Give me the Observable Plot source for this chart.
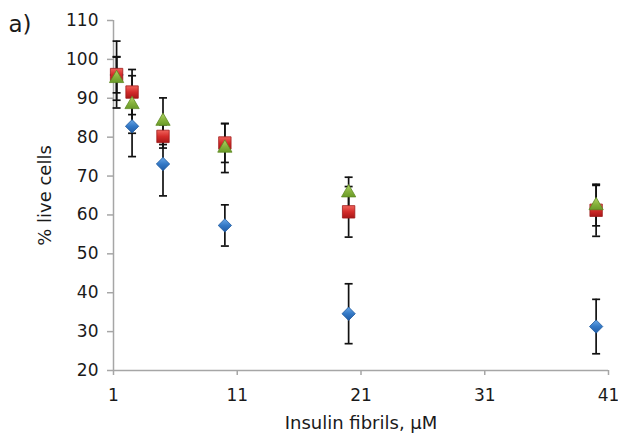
<!DOCTYPE html>
<html>
<head>
<meta charset="utf-8">
<script src="https://cdn.jsdelivr.net/npm/d3@7"></script>
<script src="https://cdn.jsdelivr.net/npm/@observablehq/plot@0.6"></script>
<style>
  html, body { margin: 0; padding: 0; background: #fff; }
  #chart { width: 618px; height: 438px; }
</style>
</head>
<body>
<div id="chart"></div>
<script>
// Fibril concentrations (µM) and % live cells (mean ± error) for three series
const concentrations = [1.25, 2.5, 5, 10, 20, 40];

const blueMean  = [96.0, 82.8, 73.1, 57.3, 34.6, 31.3];
const blueErr   = [4.6, 7.8, 8.2, 5.3, 7.7, 7.0];

const redMean   = [96.1, 91.6, 80.2, 78.5, 60.8, 61.2];
const redErr    = [8.6, 5.8, 3.0, 5.0, 6.5, 6.7];

const greenMean = [95.1, 88.4, 84.1, 77.2, 65.7, 62.4];
const greenErr  = [5.6, 7.4, 6.0, 6.3, 4.0, 5.2];

const xTicks = [1, 11, 21, 31, 41];
const yTicks = [20, 30, 40, 50, 60, 70, 80, 90, 100, 110];

const seriesDefs = [
  {key: "blue",  mean: blueMean,  err: blueErr,  symbol: "diamond2", r: 6.0, fill: "url(#gBlue)",  stroke: "#1f5a9e"},
  {key: "red",   mean: redMean,   err: redErr,   symbol: "square",   r: 7.0, fill: "url(#gRed)",   stroke: "#9e1c1c"},
  {key: "green", mean: greenMean, err: greenErr, symbol: "triangle", r: 5.3, fill: "url(#gGreen)", stroke: "#5e8a22"}
];

const rows = seriesDefs.flatMap(s =>
  concentrations.map((c, i) => ({series: s.key, x: c, y: s.mean[i], lo: s.mean[i] - s.err[i], hi: s.mean[i] + s.err[i]}))
);

// horizontal cap drawn at the ends of each error bar
const capSymbol = {
  draw(context, size) {
    const w = Math.sqrt(size / Math.PI);
    context.moveTo(-w, 0);
    context.lineTo(w, 0);
  }
};

const font = "DejaVu Sans";
const axisGray = "#a6a6a6";

const marks = [
  Plot.ruleY([20], {stroke: axisGray, strokeWidth: 1.5}),
  Plot.ruleX([1], {stroke: axisGray, strokeWidth: 1.5}),
  Plot.axisY({ticks: yTicks, tickSize: 6, tickPadding: 9, stroke: axisGray, fill: "#1a1a1a", fontSize: 17, label: null, strokeWidth: 1.5}),
  Plot.axisX({ticks: xTicks, tickSize: 5, tickPadding: 13, stroke: axisGray, fill: "#1a1a1a", fontSize: 17, label: null, tickFormat: d => String(d), strokeWidth: 1.5})
];

for (const s of seriesDefs) {
  const d = rows.filter(r => r.series === s.key);
  marks.push(
    Plot.ruleX(d, {x: "x", y1: "lo", y2: "hi", stroke: "#111", strokeWidth: 1.7}),
    Plot.dot(d, {x: "x", y: "lo", symbol: capSymbol, r: 4, stroke: "#111", strokeWidth: 1.7, fill: "none"}),
    Plot.dot(d, {x: "x", y: "hi", symbol: capSymbol, r: 4, stroke: "#111", strokeWidth: 1.7, fill: "none"})
  );
}
for (const s of seriesDefs) {
  const d = rows.filter(r => r.series === s.key);
  marks.push(Plot.dot(d, {x: "x", y: "y", symbol: s.symbol, r: s.r, fill: s.fill, stroke: s.stroke, strokeWidth: 0.8}));
}

marks.push(
  Plot.text(["% live cells"], {frameAnchor: "left", dx: -68, rotate: -90, textAnchor: "middle", lineAnchor: "middle", fontSize: 18, fill: "#1a1a1a"}),
  Plot.text(["Insulin fibrils, μM"], {frameAnchor: "bottom", dy: 53, lineAnchor: "middle", fontSize: 18, fill: "#1a1a1a"}),
  Plot.text(["a)"], {frameAnchor: "top-left", dx: -105, dy: 4, fontSize: 23, fill: "#1a1a1a", textAnchor: "start", lineAnchor: "middle"})
);

const chart = Plot.plot({
  width: 618,
  height: 438,
  marginLeft: 113,
  marginRight: 10,
  marginTop: 20,
  marginBottom: 68,
  x: {domain: [1, 41]},
  y: {domain: [20, 110]},
  style: {fontFamily: font, background: "#fff"},
  marks
});

// gradient fills for the markers
const defs = `
<defs>
  <linearGradient id="gRed" x1="0" y1="0" x2="0" y2="1">
    <stop offset="0" stop-color="#f0645c"/><stop offset="0.5" stop-color="#d42c2a"/><stop offset="1" stop-color="#a81818"/>
  </linearGradient>
  <linearGradient id="gGreen" x1="0" y1="0" x2="0" y2="1">
    <stop offset="0" stop-color="#b4d66a"/><stop offset="0.55" stop-color="#86b23c"/><stop offset="1" stop-color="#6a9a28"/>
  </linearGradient>
  <linearGradient id="gBlue" x1="0" y1="0" x2="0" y2="1">
    <stop offset="0" stop-color="#6aa8e8"/><stop offset="0.5" stop-color="#3479c6"/><stop offset="1" stop-color="#1f5aa4"/>
  </linearGradient>
</defs>`;
chart.insertAdjacentHTML("afterbegin", defs);

document.getElementById("chart").appendChild(chart);
</script>
</body>
</html>
